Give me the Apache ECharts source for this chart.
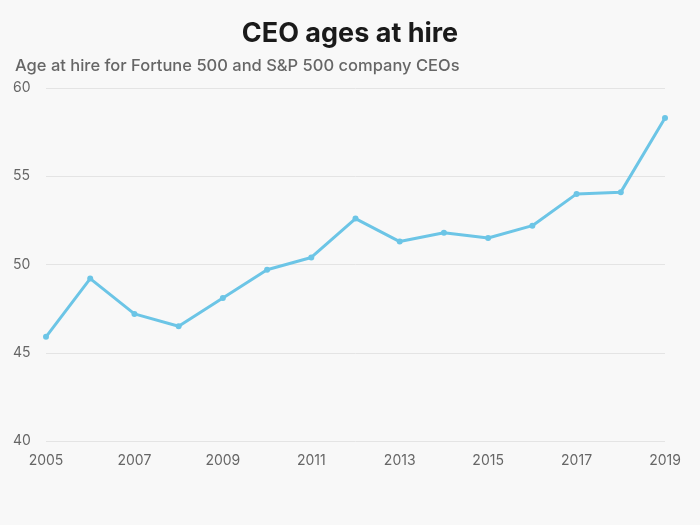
<!DOCTYPE html>
<html>
<head>
<meta charset="utf-8">
<script src="https://cdn.jsdelivr.net/npm/echarts@6/dist/echarts.min.js"></script>
<style>
html,body{margin:0;padding:0;background:#f8f8f8;}
#chart{width:700px;height:525px;}
</style>
</head>
<body>
<div id="chart"></div>
<script>
const years = ['2005','2006','2007','2008','2009','2010','2011','2012','2013','2014','2015','2016','2017','2018','2019'];
const ages = [45.9, 49.2, 47.2, 46.5, 48.1, 49.7, 50.4, 52.6, 51.3, 51.8, 51.5, 52.2, 54.0, 54.1, 58.3];
const yTicks = [40, 45, 50, 55, 60];

const chart = echarts.init(document.getElementById('chart'));
chart.setOption({
  backgroundColor: '#f8f8f8',
  title: [{
    text: 'CEO ages at hire',
    left: 'center',
    top: 15,
    textStyle: {fontFamily: 'Inter', fontSize: 27, fontWeight: 'bold', color: '#1a1a1a'}
  }, {
    text: 'Age at hire for Fortune 500 and S&P 500 company CEOs',
    left: 10,
    top: 53,
    textStyle: {fontFamily: 'Inter', fontSize: 16.5, fontWeight: 500, color: '#666'}
  }],
  grid: {left: 46, right: 35, top: 88, bottom: 84, containLabel: false},
  xAxis: {
    type: 'category',
    data: years,
    boundaryGap: false,
    axisLine: {show: false},
    axisTick: {show: false},
    axisLabel: {interval: 1, color: '#666', fontFamily: 'Inter', fontSize: 14, margin: 13}
  },
  yAxis: {
    type: 'value',
    min: yTicks[0],
    max: yTicks[yTicks.length - 1],
    interval: 5,
    axisLine: {show: false},
    axisTick: {show: false},
    splitLine: {lineStyle: {color: '#e4e4e4', width: 1}},
    axisLabel: {color: '#666', fontFamily: 'Inter', fontSize: 14, align: 'left', margin: 33,
      formatter: v => yTicks.includes(v) ? String(v) : ''}
  },
  series: [{
    type: 'line',
    data: ages,
    symbol: 'circle',
    symbolSize: 6,
    lineStyle: {color: '#6cc5e6', width: 3},
    itemStyle: {color: '#6cc5e6'},
    animation: false
  }]
});
</script>
</body>
</html>
